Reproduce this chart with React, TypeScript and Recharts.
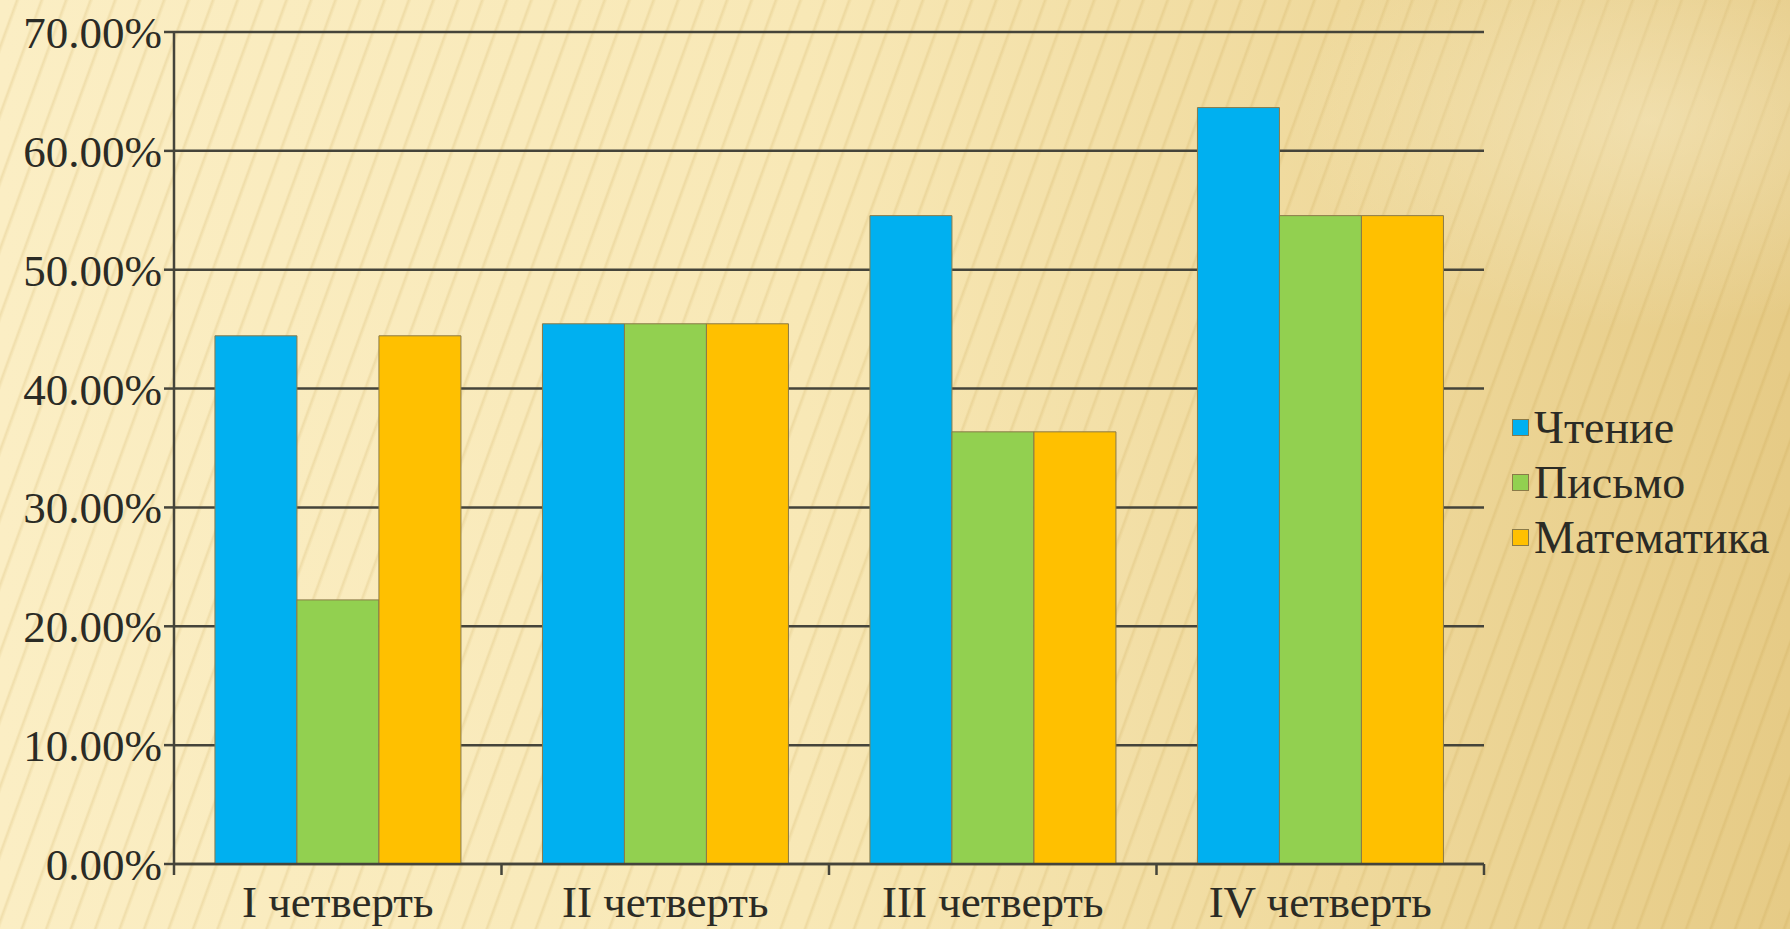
import React from 'react';
import { BarChart, Bar, XAxis, YAxis, CartesianGrid } from 'recharts';

const QUARTERS = ['I четверть', 'II четверть', 'III четверть', 'IV четверть'];
const READING = [44.44, 45.45, 54.55, 63.64];
const WRITING = [22.22, 45.45, 36.36, 54.55];
const MATH = [44.44, 45.45, 36.36, 54.55];
const Y_TICKS = [0, 10, 20, 30, 40, 50, 60, 70];

const SERIES = [
  { key: 'reading', name: 'Чтение', color: '#00B0F0' },
  { key: 'writing', name: 'Письмо', color: '#92D050' },
  { key: 'math', name: 'Математика', color: '#FFC000' },
];

const data = QUARTERS.map((q, i) => ({
  quarter: q,
  reading: READING[i],
  writing: WRITING[i],
  math: MATH[i],
}));

const W = 1790;
const H = 929;
const LEFT = 174;
const RIGHT_EDGE = 1484;
const BAND = (RIGHT_EDGE - LEFT) / QUARTERS.length;
const FONT = '"Liberation Serif", "Times New Roman", serif';
const INK = '#2b2b25';
const LINE = '#45443a';

const QuarterTick = (props: any) => {
  const { x, y, payload, index } = props;
  const last = index === QUARTERS.length - 1;
  return (
    <g>
      <line x1={x - BAND / 2} x2={x - BAND / 2} y1={y} y2={y + 11} stroke={LINE} strokeWidth={2.5} />
      {last && <line x1={x + BAND / 2} x2={x + BAND / 2} y1={y} y2={y + 11} stroke={LINE} strokeWidth={2.5} />}
      <text x={x} y={y + 53} textAnchor="middle" fontFamily={FONT} fontSize={45} fill={INK}>
        {payload.value}
      </text>
    </g>
  );
};

const bg = [
  'radial-gradient(ellipse 520px 300px at 1650px 120px, rgba(255,250,230,0.35), rgba(255,250,230,0) 70%)',
  'repeating-linear-gradient(110deg, rgba(255,255,255,0) 0px, rgba(255,255,255,0) 14px, rgba(190,150,60,0.18) 16px, rgba(255,255,255,0) 19px, rgba(255,255,255,0) 23px)',
  'linear-gradient(90deg, #FBEEC4 0%, #F8E8B6 45%, #EFD99C 75%, #E6CB86 100%)',
].join(', ');

export default function App() {
  return (
    <div style={{ position: 'relative', width: W, height: H, background: bg, overflow: 'hidden' }}>
      <style>{'body{margin:0}'}</style>
      <BarChart
        width={W}
        height={H}
        data={data}
        margin={{ top: 32, right: W - RIGHT_EDGE, bottom: 0, left: 0 }}
        barCategoryGap="12.5%"
        barGap={0}
      >
        <CartesianGrid vertical={false} stroke={LINE} strokeWidth={2.5} />
        <XAxis
          dataKey="quarter"
          height={65}
          tickLine={false}
          tickSize={0}
          tickMargin={0}
          axisLine={{ stroke: LINE, strokeWidth: 2.5 }}
          tick={<QuarterTick />}
          interval={0}
        />
        <YAxis
          width={LEFT}
          domain={[0, 70]}
          ticks={Y_TICKS}
          interval={0}
          tickFormatter={(v: number) => `${v.toFixed(2)}%`}
          tickSize={10}
          tickMargin={2}
          tickLine={{ stroke: LINE, strokeWidth: 2.5 }}
          axisLine={{ stroke: LINE, strokeWidth: 2.5 }}
          tick={{ fontFamily: FONT, fontSize: 45, fill: INK }}
        />
        {SERIES.map((s) => (
          <Bar
            key={s.key}
            dataKey={s.key}
            name={s.name}
            fill={s.color}
            stroke="#8a7a48"
            strokeWidth={1}
            isAnimationActive={false}
          />
        ))}
      </BarChart>
      <div style={{ position: 'absolute', left: 1512, top: 400, fontFamily: FONT, fontSize: 46, color: INK }}>
        {SERIES.map((s) => (
          <div key={s.key} style={{ display: 'flex', alignItems: 'center', height: 55 }}>
            <span
              style={{
                display: 'inline-block',
                width: 15,
                height: 15,
                background: s.color,
                border: '1px solid #8a7a48',
                marginRight: 5,
              }}
            />
            <span>{s.name}</span>
          </div>
        ))}
      </div>
    </div>
  );
}
